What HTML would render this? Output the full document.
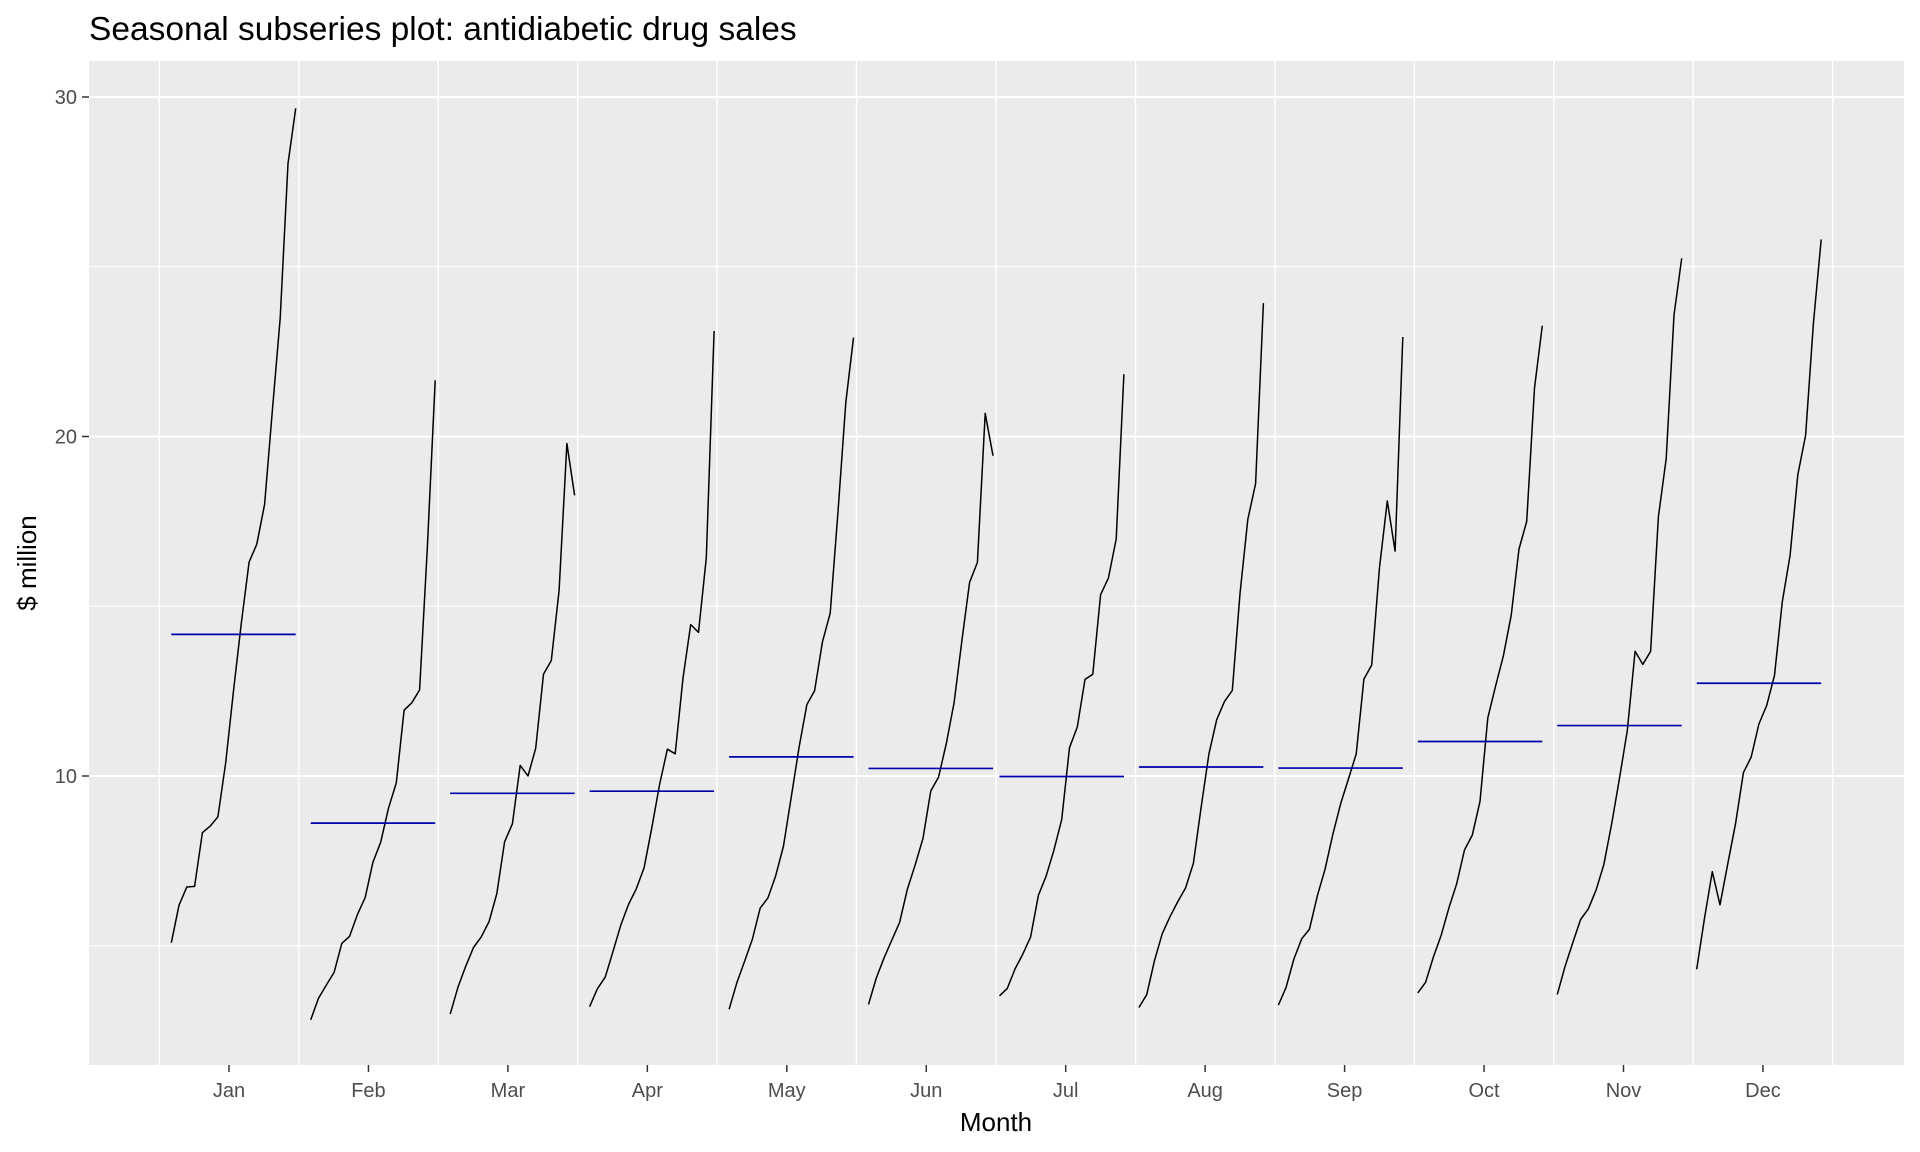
<!DOCTYPE html>
<html><head><meta charset="utf-8"><style>
html,body{margin:0;padding:0;background:#fff;}
svg{display:block;font-family:"Liberation Sans",Arial,sans-serif;}
</style></head><body>
<svg id="chart" width="1920" height="1152" viewBox="0 0 1920 1152" xmlns="http://www.w3.org/2000/svg">
<text x="89" y="40" font-size="33.5" fill="#000">Seasonal subseries plot: antidiabetic drug sales</text>
<rect x="89" y="61" width="1815" height="1004" fill="#ebebeb"/>
<g id="grid"></g>
<g id="series"></g>
<g id="means"></g>
<g id="axes"></g>
<text x="996" y="1131" font-size="26" text-anchor="middle" fill="#000">Month</text>
<text transform="translate(36,563) rotate(-90)" font-size="26" text-anchor="middle" fill="#000">$ million</text>
</svg>
<script>
const months = ["Jan","Feb","Mar","Apr","May","Jun","Jul","Aug","Sep","Oct","Nov","Dec"];
const firstYear = [1992,1992,1992,1992,1992,1992,1991,1991,1991,1991,1991,1991];
const jan = [5.088,6.192,6.731,6.749,8.329,8.524,8.799,10.391,12.511,14.498,16.300,16.828,18.004,20.779,23.487,28.038,29.665];
const feb = [2.815,3.451,3.841,4.216,5.070,5.278,5.918,6.422,7.457,8.049,9.053,9.800,11.938,12.155,12.537,16.764,21.654];
const mar = [2.986,3.772,4.394,4.949,5.263,5.714,6.534,8.063,8.591,10.313,10.002,10.817,12.998,13.402,15.467,19.793,18.265];
const apr = [3.205,3.734,4.075,4.823,5.598,6.215,6.676,7.298,8.474,9.753,10.789,10.654,12.883,14.459,14.234,16.427,23.108];
const may = [3.128,3.905,4.541,5.195,6.110,6.412,7.064,7.937,9.387,10.850,12.107,12.512,13.943,14.795,17.783,21.001,22.913];
const jun = [3.271,4.050,4.646,5.171,5.689,6.668,7.383,8.165,9.560,9.962,10.954,12.161,13.989,15.705,16.292,20.681,19.432];
const jul = [3.527,3.738,4.316,4.753,5.257,6.486,7.050,7.813,8.717,10.834,11.444,12.845,12.998,15.339,15.830,16.980,21.835];
const aug = [3.181,3.559,4.562,5.351,5.855,6.300,6.704,7.432,9.071,10.644,11.659,12.197,12.517,15.371,17.555,18.612,23.930];
const sep = [3.252,3.777,4.609,5.204,5.491,6.468,7.250,8.275,9.177,9.908,10.647,12.855,13.269,16.142,18.101,16.623,22.930];
const oct = [3.611,3.924,4.668,5.302,6.115,6.829,7.819,8.260,9.252,11.710,12.652,13.542,14.734,16.686,17.497,21.430,23.263];
const nov = [3.566,4.387,5.094,5.774,6.088,6.650,7.398,8.597,9.933,11.340,13.674,13.288,13.669,17.637,19.347,23.576,25.250];
const dec = [4.306,5.811,7.180,6.205,7.417,8.607,10.096,10.559,11.533,12.079,12.966,15.135,16.504,18.869,20.031,23.334,25.806];
const seriesByMonth = [jan,feb,mar,apr,may,jun,jul,aug,sep,oct,nov,dec];
const yTicks = [10,20,30];
const yMinor = [5,15,25];

const NS="http://www.w3.org/2000/svg";
const PL=89,PR=1904,PT=61,PB=1065;
function yScale(v){return 776-(v-10)*33.95;}
function xCenter(i){return 229+i*139.45;}
function xPoint(i,yearIdx,n){
  const shift = firstYear[i]===1992 ? 4.5 : -4;
  return xCenter(i)+(yearIdx-(n-1)/2)*7.78+shift;
}
function mk(tag,attrs,parent){const e=document.createElementNS(NS,tag);for(const k in attrs)e.setAttribute(k,attrs[k]);parent.appendChild(e);return e;}
const grid=document.getElementById('grid'),ser=document.getElementById('series'),means=document.getElementById('means'),axes=document.getElementById('axes');

yMinor.forEach(v=>{const l=mk('line',{x1:PL,x2:PR,y1:yScale(v),y2:yScale(v),stroke:'#fff','stroke-width':1},grid);

});
yTicks.forEach(v=>{const l=mk('line',{x1:PL,x2:PR,y1:yScale(v),y2:yScale(v),stroke:'#fff','stroke-width':2},grid);

});
for(let i=0;i<=12;i++){const x=xCenter(i)-69.7;const l=mk('line',{x1:x,x2:x,y1:PT,y2:PB,stroke:'#fff','stroke-width':1.5},grid);

}

seriesByMonth.forEach((vals,i)=>{
  const n=vals.length;
  const pts=vals.map((v,k)=>xPoint(i,k,n).toFixed(1)+','+yScale(v).toFixed(1)).join(' ');
  const pl=mk('polyline',{points:pts,fill:'none',stroke:'#000','stroke-width':1.5,'stroke-linejoin':'round'},ser);
  
  
  const m=vals.reduce((a,b)=>a+b,0)/n;
  const ml=mk('line',{x1:xPoint(i,0,n),x2:xPoint(i,n-1,n),y1:yScale(m),y2:yScale(m),stroke:'#0000aa','stroke-width':1.7},means);
  
  
  const t=mk('line',{x1:xCenter(i),x2:xCenter(i),y1:PB,y2:PB+7,stroke:'#333','stroke-width':1.5},axes);
  
  
  const lb=mk('text',{x:xCenter(i),y:PB+32,'font-size':20,'text-anchor':'middle',fill:'#4d4d4d'},axes);
  lb.textContent=months[i];
  
  
});
yTicks.forEach(v=>{
  const t=mk('line',{x1:PL-7,x2:PL,y1:yScale(v),y2:yScale(v),stroke:'#333','stroke-width':1.5},axes);
  
  
  const lb=mk('text',{x:PL-12,y:yScale(v)+7,'font-size':20,'text-anchor':'end',fill:'#4d4d4d'},axes);
  lb.textContent=v;
  
  
});
</script>
</body></html>
